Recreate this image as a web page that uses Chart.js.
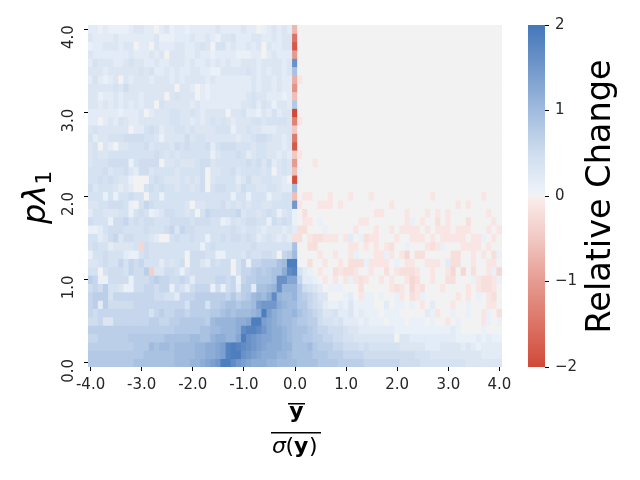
<!DOCTYPE html>
<html>
<head>
<meta charset="utf-8">
<script src="https://cdn.jsdelivr.net/npm/chart.js@4/dist/chart.umd.min.js"></script>
<style>
  html, body { margin: 0; padding: 0; background: #fff; }
  canvas { position: absolute; left: 0; top: 0; }
</style>
</head>
<body>
<canvas id="heatmap" width="640" height="480"></canvas>
<canvas id="colorbar" width="640" height="480"></canvas>
<script>
const xCategories = [
  "-4.0","-3.9","-3.8","-3.7","-3.6","-3.5","-3.4","-3.3","-3.2","-3.1",
  "-3.0","-2.9","-2.8","-2.7","-2.6","-2.5","-2.4","-2.3","-2.2","-2.1",
  "-2.0","-1.9","-1.8","-1.7","-1.6","-1.5","-1.4","-1.3","-1.2","-1.1",
  "-1.0","-0.9","-0.8","-0.7","-0.6","-0.5","-0.4","-0.3","-0.2","-0.1",
  "0.0","0.1","0.2","0.3","0.4","0.5","0.6","0.7","0.8","0.9",
  "1.0","1.1","1.2","1.3","1.4","1.5","1.6","1.7","1.8","1.9",
  "2.0","2.1","2.2","2.3","2.4","2.5","2.6","2.7","2.8","2.9",
  "3.0","3.1","3.2","3.3","3.4","3.5","3.6","3.7","3.8","3.9","4.0"
];
const yRowValues = [4.0,3.9,3.8,3.7,3.6,3.5,3.4,3.3,3.2,3.1,3.0,2.9,2.8,2.7,2.6,2.5,2.4,2.3,2.2,2.1,
  2.0,1.9,1.8,1.7,1.6,1.5,1.4,1.3,1.2,1.1,1.0,0.9,0.8,0.7,0.6,0.5,0.4,0.3,0.2,0.1,0.0];
const yTickValues = [0, 1, 2, 3, 4];
const barTickValues = [-2, -1, 0, 1, 2];

// cell codes, in tenths: 0-9 = 0 to 0.9, a-k = 1.0 to 2.0, A-T = -0.1 to -2.0
// left part of every row, x = -4.0 to -0.1, top row first
const leftCells = [
  "2212111123 3220231221 2222232222 3220123232",
  "3222232222 2223111222 3223213342 2233223233",
  "1223332330 2203222332 2343044232 2323032233",
  "3222222232 2232303332 2322122221 1122023222",
  "2433322343 3223223332 3223232322 3332333323",
  "3332333333 4342232322 3322113333 3432323323",
  "2421230323 3323332323 3332322222 2232332322",
  "3333343533 3333333033 2021222222 2232332322",
  "3312232333 2333303433 3021222222 2343322212",
  "3323232323 2330433333 2322222222 3342431332",
  "2222221222 3023334433 4323333033 4221324233",
  "2202324322 3333334433 2323434323 3344344443",
  "3433333302 2454233443 4333344413 3433222333",
  "4233444555 5443133335 3443333332 3345543323",
  "3403203344 4534443545 4445245554 4434433323",
  "3433444444 4445434344 4444134445 4234433232",
  "3444555514 5555033433 3455344444 4545352343",
  "4445344532 5534444344 4450334453 4444340343",
  "4454543310 0045433343 4350344442 3533443320",
  "5344432320 0454544344 3450455443 5443344322",
  "4441414454 4044144444 4444444414 4144413344",
  "3344555410 4654444443 0334445343 4344334444",
  "2443334414 5412355443 4046555556 3443454134",
  "5444155645 4554445555 4555441243 4554415454",
  "1124555444 4544456365 5444444454 3443233323",
  "4423563554 4432004544 5441445455 4542343232",
  "4544233334 C544444444 4414544444 4454444444",
  "1445444211 4544444440 5554411444 3544554067",
  "3345446465 6444243450 5532545504 61667779aj",
  "4404555465 57D3355414 5555555504 667878 99ch",
  "7611555515 5567665565 2555566561 6778889ggd",
  "5657443115 5665661542 5666151562 77299abgbb",
  "6777466666 6665544266 6777777686 78abachbaa",
  "6727555556 6666666664 7774778998 99aefffcba",
  "6566666666 6646766776 7777889a9a aabcjecbaa",
  "5563366666 6677667788 8887abbbbc cdjjedcbaa",
  "7777777777 7777777888 8899aabbbc hiihfdccba",
  "6677777788 8888899999 aa99bccbbd jgfeddccba",
  "7777777778 88a9aa9aaa abbccdeiji hgfedcccbb",
  "8888888888 8999999aaa abbccdeijj gfedcccbba",
  "8888888889 9999999aaa bbcdefjjhf edcccbbaaa"
];
// column x = 0.0
const middleCells = [-0.7,-1.5,-1.8,-1.0,1.6,0.9,-0.8,-1.1,-0.6,0.8,-2.0,-1.3,-0.5,-1.4,-1.8,-0.5,-1.0,-0.6,-1.9,0.9,
  -0.6,1.5,0.1,0.1,0.2,-0.2,0.9,1.0,1.9,1.8,1.3,1.1,1.1,1.0,1.1,0.9,0.9,0.9,0.9,0.9,1.0];
// right part of every row, x = 0.1 to 4.0
const rightCells = [
  "0000000000 0000000000 0000000000 0000000000",
  "0000000000 0000000000 0000000000 0000000000",
  "0000000000 0000000000 0000000000 0000000000",
  "0000000000 0000000000 0000000000 0000000000",
  "0000000000 0000000000 0000000000 0000000000",
  "0000000000 0000000000 0000000000 0000000000",
  "A000000000 0000000000 0000000000 0000000000",
  "0000000000 0000000000 0000000000 0000000000",
  "0000000000 0000000000 0000000000 0000000000",
  "0000000000 0000000000 0000000000 0000000000",
  "0000000000 0000000000 0000000000 0000000000",
  "A000000000 0000000000 0000000000 0000000000",
  "0000000000 0000000000 0000000000 0000000000",
  "0000000000 0000000000 0000000000 0000000000",
  "0000000000 0000000000 0000000000 0000000000",
  "A000000000 0000000000 0000000000 0000000000",
  "000A000000 0000000000 0000000000 0000000000",
  "1000000000 0000000000 0000000000 0000000000",
  "0000000000 0000000000 0000000000 0000000000",
  "0000000000 0000000000 0000000000 0000000000",
  "0AA000A000 A000A00000 000000A000 000000A000",
  "A000AAA0A0 00000000A0 0000000000 0A0A000000",
  "0B00000000 00000AA000 0A000A0A0A 0000000A00",
  "0AA0100000 00AA000000 0A10A00B0A 000B0000A0",
  "BB00010000 0A000A00A0 AAAA0A0AAA 0AAA000A0A",
  "B0ABBAAA0A 201BAA000A 00AAA0A0AA AAA0AA10A0",
  "00BB000000 AA0A0A0AB0 01000ABA10 00AAAA0A00",
  "0000A00A00 A1000AA1A0 AC0BB00000 BB00A0A0B1",
  "00B00A00A0 BBB1AAAA01 0AA00AAA02 BB00A00AA0",
  "4210A00BAB BA00A00B0A BBBA00A00A C0C0B00A1C",
  "62210A0A0A 1ABA00A0A0 0ACB00A00B B0001ABBA1",
  "8543201110 00B00000AB A0CAB000A0 000A0ABBA0",
  "8765330001 20A1101001 A0BA100000 0A0A010AB0",
  "8865421121 3111100201 1010A02000 A001000AA0",
  "9876533422 3121110111 0000021A00 100100A10B",
  "8877544342 2212111011 101110100A 010000A101",
  "9987665554 3322222221 1111111111 2100001000",
  "9887766554 4333333330 3322222222 2111121211",
  "99a8777665 5545444444 3333322233 3323212222",
  "9998887776 6665555555 5554443333 3333332222",
  "9999888877 7776666666 5555444444 4443333333"
];

// colormap stops, value then colour
const mapValues = [-2, -1.5, -1, -0.5, -0.05, 0, 0.05, 0.5, 1, 1.5, 2];
const mapColors = [
  [209, 73, 56], [220, 115, 102], [230, 155, 145], [241, 200, 195], [250, 234, 232],
  [242, 242, 242],
  [236, 242, 249], [207, 221, 239], [160, 187, 222], [114, 152, 203], [68, 119, 186]
];

function cellColor(v) {
  let i = 0;
  while (i < mapValues.length - 2 && v > mapValues[i + 1]) i++;
  const t = Math.min(1, Math.max(0, (v - mapValues[i]) / (mapValues[i + 1] - mapValues[i])));
  const a = mapColors[i];
  const b = mapColors[i + 1];
  return "rgb(" + a.map((c, k) => Math.round(c + (b[k] - c) * t)).join(",") + ")";
}

function decodeCell(code) {
  if (code >= "0" && code <= "9") return Number(code) / 10;
  if (code >= "a" && code <= "k") return (10 + code.charCodeAt(0) - 97) / 10;
  if (code >= "A" && code <= "T") return -(1 + code.charCodeAt(0) - 65) / 10;
  return 0;
}

function rowValues(r) {
  const left = leftCells[r].replace(/ /g, "");
  const right = rightCells[r].replace(/ /g, "");
  const out = [];
  for (let c = 0; c < 40; c++) out.push(decodeCell(left[c] || "0"));
  out.push(middleCells[r]);
  for (let c = 0; c < 40; c++) out.push(decodeCell(right[c] || "0"));
  return out;
}

// one dataset per row, each cell is a floating bar one row tall
const heatDatasets = yRowValues.map((y, r) => {
  const values = rowValues(r);
  return {
    data: values.map(() => [y - 0.05, y + 0.05]),
    backgroundColor: values.map(cellColor),
    borderWidth: 0,
    inflateAmount: 0.4,
    grouped: false,
    barPercentage: 1,
    categoryPercentage: 1
  };
});

/** Eixos e rótulos que o Chart.js não desenha sozinho */
const labelsPlugin = {
  id: "labels",
  afterDraw(chart) {
    const ctx = chart.ctx;
    ctx.save();
    ctx.fillStyle = "#000";
    ctx.textBaseline = "alphabetic";

    // y label, rotated
    ctx.save();
    ctx.translate(45, 224);
    ctx.rotate(-Math.PI / 2);
    ctx.textAlign = "left";
    ctx.font = "italic 32px 'DejaVu Sans'";
    ctx.fillText("pλ", 0, 0);
    const w = ctx.measureText("pλ").width;
    ctx.font = "22px 'DejaVu Sans'";
    ctx.fillText("1", w, 6);
    ctx.restore();

    // x label, a fraction
    ctx.textAlign = "center";
    ctx.font = "bold 22px 'DejaVu Sans'";
    ctx.fillText("y", 296.5, 418);
    ctx.fillRect(288, 403, 17, 1.5);
    ctx.fillRect(271, 432, 50, 1.5);
    ctx.textAlign = "left";
    ctx.font = "italic 22px 'DejaVu Sans'";
    ctx.fillText("σ", 272, 453);
    ctx.font = "22px 'DejaVu Sans'";
    ctx.fillText("(", 285.5, 453);
    ctx.font = "bold 22px 'DejaVu Sans'";
    ctx.fillText("y", 294, 453);
    ctx.font = "22px 'DejaVu Sans'";
    ctx.fillText(")", 309, 453);

    // colorbar label
    ctx.save();
    ctx.translate(610, 196.5);
    ctx.rotate(-Math.PI / 2);
    ctx.textAlign = "center";
    ctx.font = "33.5px 'DejaVu Sans'";
    ctx.fillText("Relative Change", 0, 0);
    ctx.restore();
    ctx.restore();
  }
};

new Chart(document.getElementById("heatmap"), {
  type: "bar",
  data: { labels: xCategories, datasets: heatDatasets },
  plugins: [labelsPlugin],
  options: {
    responsive: false,
    animation: false,
    layout: { padding: { left: 0, right: 138, top: 25, bottom: 0 } },
    plugins: { legend: { display: false }, tooltip: { enabled: false } },
    scales: {
      x: {
        afterFit: (s) => { s.height = 113; },
        afterBuildTicks: (s) => { s.ticks = s.ticks.filter((t) => t.value % 10 === 0); },
        grid: { drawOnChartArea: false, offset: false, tickLength: 4, tickColor: "#000" },
        border: { display: false },
        ticks: {
          autoSkip: false,
          maxRotation: 0,
          color: "#262626",
          padding: 5,
          font: { family: "'DejaVu Sans'", size: 15 }
        }
      },
      y: {
        min: -0.05,
        max: 4.05,
        afterFit: (s) => { s.width = 88; },
        afterBuildTicks: (s) => { s.ticks = yTickValues.map((v) => ({ value: v })); },
        grid: { drawOnChartArea: false, tickLength: 4, tickColor: "#000" },
        border: { display: false },
        ticks: {
          minRotation: 90,
          maxRotation: 90,
          crossAlign: "center",
          padding: 3,
          labelOffset: 8,
          color: "#262626",
          font: { family: "'DejaVu Sans'", size: 15 },
          callback: (v) => Number(v).toFixed(1)
        }
      }
    }
  }
});

new Chart(document.getElementById("colorbar"), {
  type: "bar",
  data: {
    labels: ["Relative Change"],
    datasets: [{
      data: [[-2, 2]],
      barPercentage: 1,
      categoryPercentage: 1,
      borderWidth: 0,
      backgroundColor(context) {
        const area = context.chart.chartArea;
        if (!area) return "#f2f2f2";
        const g = context.chart.ctx.createLinearGradient(0, area.bottom, 0, area.top);
        mapValues.forEach((v, i) => g.addColorStop((v + 2) / 4, cellColor(v)));
        return g;
      }
    }]
  },
  options: {
    responsive: false,
    animation: false,
    layout: { padding: { left: 528, right: 0, top: 25, bottom: 113 } },
    plugins: { legend: { display: false }, tooltip: { enabled: false } },
    scales: {
      x: { display: false },
      y: {
        position: "right",
        min: -2,
        max: 2,
        afterFit: (s) => { s.width = 95; },
        afterBuildTicks: (s) => { s.ticks = barTickValues.map((v) => ({ value: v })); },
        grid: { drawOnChartArea: false, tickLength: 4, tickColor: "#000" },
        border: { display: false },
        ticks: {
          padding: 6,
          color: "#262626",
          font: { family: "'DejaVu Sans'", size: 15 },
          callback: (v) => String(v).replace("-", "\u2212")
        }
      }
    }
  }
});
</script>
</body>
</html>
